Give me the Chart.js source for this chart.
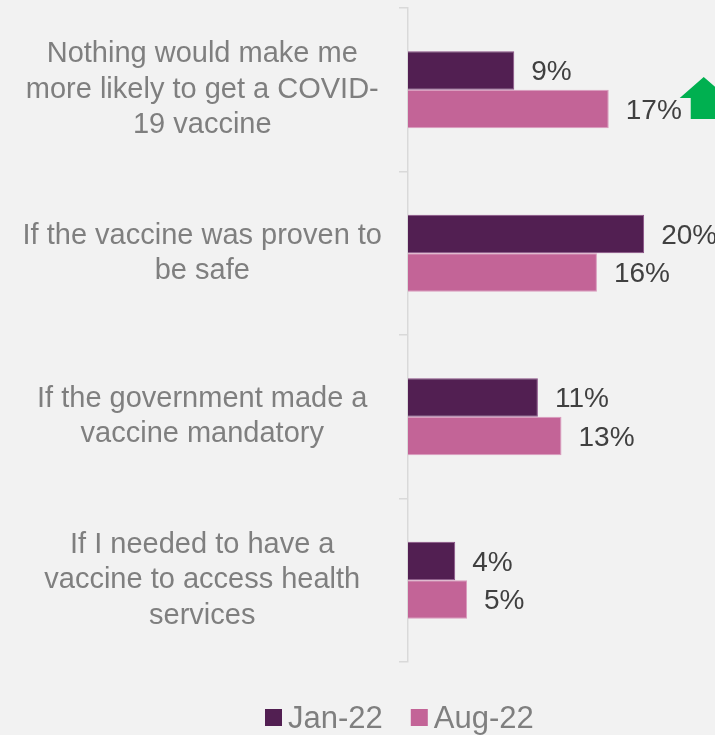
<!DOCTYPE html>
<html>
<head>
<meta charset="utf-8">
<script src="https://cdn.jsdelivr.net/npm/chart.js@4"></script>
<style>
  html, body { margin: 0; padding: 0; background: #f2f2f2; }
  #wrap { width: 715px; height: 735px; position: relative; }
</style>
</head>
<body>
<div id="wrap"><canvas id="chart"></canvas></div>
<script>
// ─── DATA ───
const categories = [
    ["Nothing would make me", "more likely to get a COVID-", "19 vaccine"],
    ["If the vaccine was proven to", "be safe"],
    ["If the government made a", "vaccine mandatory"],
    ["If I needed to have a", "vaccine to access health", "services"]
];
const jan22 = [9, 20, 11, 4];
const aug22 = [17, 16, 13, 5];
const seriesNames = ["Jan-22", "Aug-22"];
const seriesColors = ["#521f52", "#c36497"];

const FONT = "'Liberation Sans', Arial, sans-serif";

// value labels at the end of each bar
const valueLabels = {
    id: "valueLabels",
    afterDatasetsDraw(chart) {
        const ctx = chart.ctx;
        ctx.save();
        ctx.font = "28px " + FONT;
        ctx.fillStyle = "#404040";
        ctx.textAlign = "left";
        ctx.textBaseline = "middle";
        chart.data.datasets.forEach((ds, di) => {
            chart.getDatasetMeta(di).data.forEach((bar, i) => {
                ctx.fillText(ds.data[i] + "%", bar.x + 17, bar.y + 2);
            });
        });
        ctx.restore();
    }
};

// green "up" arrow next to the first Aug-22 bar
const upArrow = {
    id: "upArrow",
    afterDatasetsDraw(chart) {
        const bar = chart.getDatasetMeta(1).data[0];
        const cx = bar.x + 95, cy = bar.y;
        const ctx = chart.ctx;
        ctx.save();
        ctx.fillStyle = "#00b050";
        ctx.beginPath();
        ctx.moveTo(cx, cy - 32);
        ctx.lineTo(cx + 24, cy - 11);
        ctx.lineTo(cx + 13, cy - 11);
        ctx.lineTo(cx + 13, cy + 10);
        ctx.lineTo(cx - 13, cy + 10);
        ctx.lineTo(cx - 13, cy - 11);
        ctx.lineTo(cx - 24, cy - 11);
        ctx.closePath();
        ctx.fill();
        ctx.restore();
    }
};

// legend row under the plot
const bottomLegend = {
    id: "bottomLegend",
    afterDraw(chart) {
        const ctx = chart.ctx;
        const y = 718;
        let x = 265;
        ctx.save();
        ctx.font = "31px " + FONT;
        ctx.textBaseline = "middle";
        ctx.textAlign = "left";
        seriesNames.forEach((name, i) => {
            ctx.fillStyle = seriesColors[i];
            ctx.fillRect(x, y - 9, 17, 17);
            ctx.fillStyle = "#7f7f7f";
            ctx.fillText(name, x + 23, y + 1);
            x += 23 + ctx.measureText(name).width + 28;
        });
        ctx.restore();
    }
};

new Chart(document.getElementById("chart"), {
    type: "bar",
    data: {
        labels: categories,
        datasets: [{
            label: seriesNames[0],
            data: jan22,
            backgroundColor: seriesColors[0],
            borderColor: "#8a4f86",
            borderWidth: 1,
            categoryPercentage: 0.47,
            barPercentage: 1
        }, {
            label: seriesNames[1],
            data: aug22,
            backgroundColor: seriesColors[1],
            borderColor: "#da9cbe",
            borderWidth: 1,
            categoryPercentage: 0.47,
            barPercentage: 1
        }]
    },
    options: {
        indexAxis: "y",
        responsive: true,
        maintainAspectRatio: false,
        animation: false,
        layout: { padding: { top: 8, bottom: 73, left: 0, right: 0 } },
        plugins: {
            legend: { display: false },
            tooltip: { enabled: false }
        },
        scales: {
            x: {
                display: false,
                min: 0,
                max: 26
            },
            y: {
                afterFit: (scale) => {
                    scale.width = 408;
                    // tall multi-line labels should not push the plot down
                    scale.paddingTop = 0;
                    scale.paddingBottom = 0;
                },
                grid: {
                    drawOnChartArea: false,
                    drawTicks: true,
                    tickLength: 9,
                    color: "#d9d9d9",
                    lineWidth: 1.5
                },
                border: { display: true, color: "#d9d9d9", width: 1.5 },
                ticks: {
                    crossAlign: "center",
                    padding: 17,
                    color: "#7f7f7f",
                    font: { family: FONT, size: 29, lineHeight: 1.22 }
                }
            }
        }
    },
    plugins: [valueLabels, upArrow, bottomLegend]
});
</script>
</body>
</html>
